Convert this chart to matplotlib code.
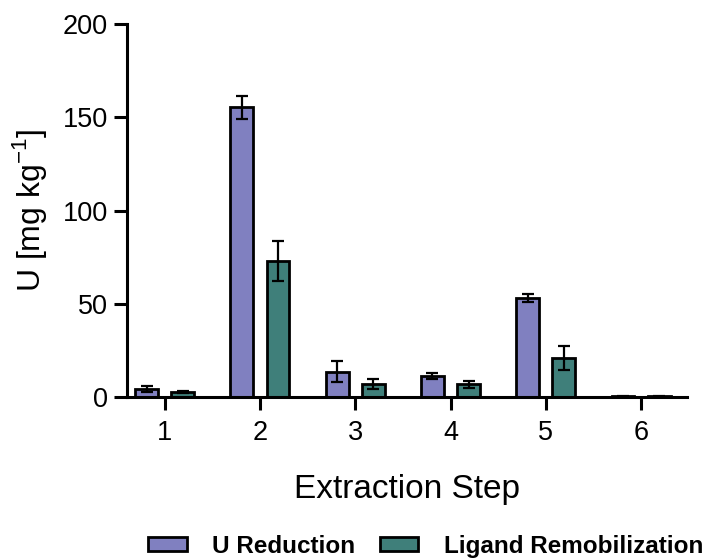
import numpy as np
import matplotlib
matplotlib.use("Agg")
import matplotlib.pyplot as plt

plt.rcParams["font.family"] = ["Liberation Sans", "DejaVu Sans"]
plt.rcParams["mathtext.fontset"] = "custom"
plt.rcParams["mathtext.rm"] = "Liberation Sans"

# 数据
steps = [1, 2, 3, 4, 5, 6]
u_reduction = [4.3, 155.5, 13.6, 11.2, 53.2, 0.5]
u_reduction_err = [1.8, 6.2, 5.6, 1.5, 2.0, 0.3]
ligand = [2.8, 73.0, 7.0, 6.8, 20.9, 0.3]
ligand_err = [0.5, 10.8, 2.6, 1.9, 6.4, 0.2]
labels = ["U Reduction", "Ligand Remobilization"]

fig = plt.figure(figsize=(7.11, 5.6), dpi=100)
ax = fig.add_axes([0.178, 0.291, 0.788, 0.666])

x = np.array(steps)
w = 0.24
off = 0.19
ekw = dict(elinewidth=1.6, capthick=1.6)
ax.bar(x - off, u_reduction, w, color="#8080C0", edgecolor="black", linewidth=2,
       yerr=u_reduction_err, capsize=4.5, error_kw=ekw, label=labels[0])
ax.bar(x + off, ligand, w, color="#3F7F7A", edgecolor="black", linewidth=2,
       yerr=ligand_err, capsize=4.5, error_kw=ekw, label=labels[1])

ax.set_xlim(0.6, 6.48)
ax.set_ylim(0, 200)
ax.set_yticks([0, 50, 100, 150, 200])
ax.set_xticks(steps)
ax.spines["top"].set_visible(False)
ax.spines["right"].set_visible(False)
ax.spines["left"].set_linewidth(2.2)
ax.spines["bottom"].set_linewidth(2.2)
ax.tick_params(axis="both", width=2.2, length=9.5, labelsize=19.5)
ax.tick_params(axis="x", pad=7)
ax.tick_params(axis="y", pad=4)

ax.set_xlabel("Extraction Step", fontsize=24, labelpad=20)
ax.set_ylabel("U [mg kg$^{\\mathregular{-1}}$]", fontsize=23, labelpad=10)

fig.legend(loc="lower right", bbox_to_anchor=(1.02, -0.035), ncol=2, frameon=False,
           prop=dict(size=17.5, weight="bold"), handlelength=1.6, handleheight=0.5,
           columnspacing=1.0, handletextpad=1.05)

plt.savefig("out.png", dpi=100)
